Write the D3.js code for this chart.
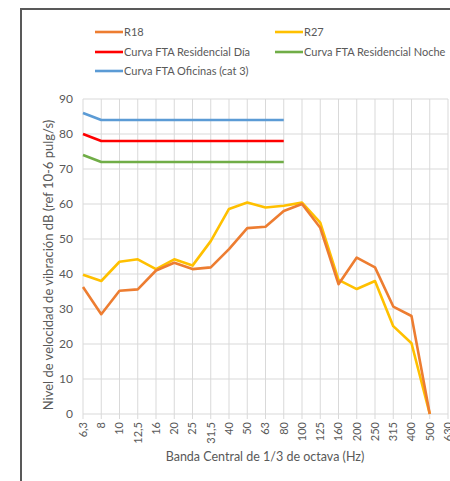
<!DOCTYPE html>
<html>
<head>
<meta charset="utf-8">
<script src="https://cdn.jsdelivr.net/npm/d3@7"></script>
<style>
    body { margin: 0; background: #fff; }
    svg text { font-family: Lato, "Open Sans", sans-serif; fill: #595959; }
</style>
</head>
<body>
<div id="chart"></div>
<script>
const bands = ["6,3", "8", "10", "12,5", "16", "20", "25", "31,5", "40", "50", "63", "80", "100", "125", "160", "200", "250", "315", "400", "500", "630"];

const r18 = [36.3, 28.5, 35.2, 35.6, 41, 43.2, 41.4, 41.9, 47.1, 53.1, 53.5, 58, 60, 53.2, 37.1, 44.7, 41.9, 30.7, 28, 0];
const r27 = [39.8, 38, 43.5, 44.2, 41.4, 44.2, 42.4, 49.4, 58.6, 60.4, 59, 59.5, 60.4, 54.7, 38.3, 35.7, 38, 25.1, 20.2, 0];
const ftaDia = [80, 78, 78, 78, 78, 78, 78, 78, 78, 78, 78, 78];
const ftaNoche = [74, 72, 72, 72, 72, 72, 72, 72, 72, 72, 72, 72];
const ftaOficinas = [86, 84, 84, 84, 84, 84, 84, 84, 84, 84, 84, 84];

const yTicks = [0, 10, 20, 30, 40, 50, 60, 70, 80, 90];

const series = [
    { name: "R18", values: r18, color: "#ED7D31" },
    { name: "R27", values: r27, color: "#FFC000" },
    { name: "Curva FTA Residencial Día", values: ftaDia, color: "#FF0000" },
    { name: "Curva FTA Residencial Noche", values: ftaNoche, color: "#70AD47" },
    { name: "Curva FTA Oficinas (cat 3)", values: ftaOficinas, color: "#5B9BD5" },
];

const width = 450, height = 481;
const margin = { top: 99, right: 2, bottom: 67, left: 83 };

const svg = d3.select("#chart").append("svg").attr("width", width).attr("height", height);

// outer chart border (continues past the window on right/bottom)
svg.append("rect")
    .attr("x", 21).attr("y", 9)
    .attr("width", 500).attr("height", 500)
    .attr("fill", "none")
    .attr("stroke", "#595959")
    .attr("stroke-width", 2);

const x = d3.scalePoint()
    .domain(bands)
    .range([margin.left, width - margin.right]);

const y = d3.scaleLinear()
    .domain([0, 90])
    .range([height - margin.bottom, margin.top]);

// gridlines
svg.append("g")
    .selectAll("line")
    .data(yTicks)
    .join("line")
    .attr("x1", margin.left).attr("x2", width - margin.right)
    .attr("y1", d => y(d)).attr("y2", d => y(d))
    .attr("stroke", "#D9D9D9").attr("stroke-width", 1);

svg.append("g")
    .selectAll("line")
    .data(bands)
    .join("line")
    .attr("x1", d => x(d)).attr("x2", d => x(d))
    .attr("y1", y(90)).attr("y2", y(0) + 5)
    .attr("stroke", "#D9D9D9").attr("stroke-width", 1);

// y tick labels
svg.append("g")
    .selectAll("text")
    .data(yTicks)
    .join("text")
    .attr("x", margin.left - 10)
    .attr("y", d => y(d))
    .attr("dy", "0.35em")
    .attr("text-anchor", "end")
    .attr("font-size", 12)
    .text(d => d);

// x tick labels, rotated
svg.append("g")
    .selectAll("text")
    .data(bands)
    .join("text")
    .attr("transform", d => `translate(${x(d)},${y(0) + 8}) rotate(-90)`)
    .attr("dy", "0.35em")
    .attr("text-anchor", "end")
    .attr("font-size", 11)
    .text(d => d);

// axis titles
svg.append("text")
    .attr("transform", `translate(48,265) rotate(-90)`)
    .attr("text-anchor", "middle")
    .attr("dy", "0.35em")
    .attr("font-size", 13)
    .text("Nivel de velocidad de vibración dB (ref 10-6 pulg/s)");

svg.append("text")
    .attr("x", 265)
    .attr("y", 457)
    .attr("text-anchor", "middle")
    .attr("dy", "0.35em")
    .attr("font-size", 12.5)
    .text("Banda Central de 1/3 de octava (Hz)");

// series lines
const line = d3.line()
    .x((d, i) => x(bands[i]))
    .y(d => y(d));

svg.append("g")
    .selectAll("path")
    .data(series.slice().reverse())
    .join("path")
    .attr("d", d => line(d.values))
    .attr("fill", "none")
    .attr("stroke", d => d.color)
    .attr("stroke-width", 2.6)
    .attr("stroke-linejoin", "round");

// legend
const legendPos = [[95, 32], [275, 32], [95, 52], [275, 52], [95, 71]];
const legend = svg.append("g")
    .selectAll("g")
    .data(series)
    .join("g")
    .attr("transform", (d, i) => `translate(${legendPos[i][0]},${legendPos[i][1]})`);

legend.append("line")
    .attr("x1", 0).attr("x2", 28)
    .attr("stroke", d => d.color)
    .attr("stroke-width", 2.6);

legend.append("text")
    .attr("x", 29)
    .attr("dy", "0.35em")
    .attr("font-size", 11)
    .text(d => d.name);
</script>
</body>
</html>
